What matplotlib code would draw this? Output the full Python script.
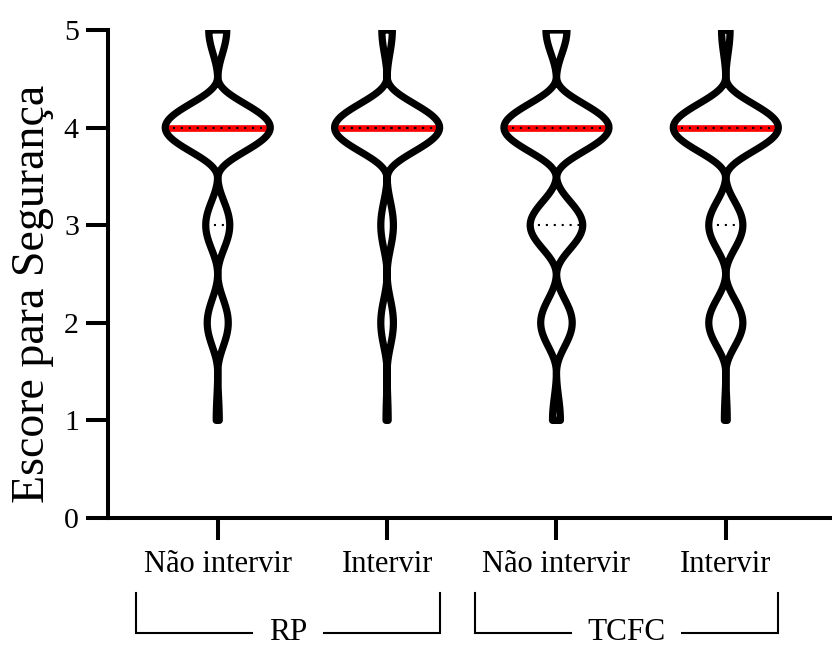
import numpy as np
import matplotlib
matplotlib.use("Agg")
import matplotlib.pyplot as plt
from matplotlib.patches import Polygon
from matplotlib.transforms import blended_transform_factory

plt.rcParams['font.family'] = ['Liberation Serif', 'DejaVu Serif']

# Score scale and number of answers per score in each group
scores = np.array([1, 2, 3, 4, 5])
rp_nao_intervir = [1, 7, 8, 35, 6]
rp_intervir = [1, 6, 6, 50, 5]
tcfc_nao_intervir = [3, 12, 20, 40, 8]
tcfc_intervir = [1, 12, 12, 37, 3]

groups = [rp_nao_intervir, rp_intervir, tcfc_nao_intervir, tcfc_intervir]
tick_labels = ["Não intervir", "Intervir", "Não intervir", "Intervir"]
group_names = ["RP", "TCFC"]
group_members = [(0, 1), (2, 3)]

ylabel = "Escore para Segurança"

BANDWIDTH = 0.55      # triweight kernel support
HALF_WIDTH = 0.31     # max half width of a violin, in category units


def kde(y, counts):
    dens = np.zeros_like(y)
    for s, c in zip(scores, counts):
        u = (y - s) / BANDWIDTH
        k = np.where(np.abs(u) < 1, (1 - u ** 2) ** 3, 0.0)
        dens += c * k
    return dens


fig = plt.figure(figsize=(8.32, 6.46), dpi=100)
ax = fig.add_axes([108 / 832, 128 / 646, 724 / 832, 488 / 646])

for i, counts in enumerate(groups):
    data = np.repeat(scores, counts)
    lo, hi = data.min(), data.max()
    y = np.linspace(lo, hi, 1201)
    dens = kde(y, counts)
    scale = HALF_WIDTH / dens.max()
    half = dens * scale

    xs = np.concatenate([i + half, (i - half)[::-1]])
    ys = np.concatenate([y, y[::-1]])
    verts = np.column_stack([xs, ys])

    ax.add_patch(Polygon(verts, closed=True, facecolor='white',
                         edgecolor='none', zorder=2))

    q1, med, q3 = np.percentile(data, [25, 50, 75])

    def width_at(v):
        return kde(np.array([v]), counts)[0] * scale

    w = width_at(med)
    ax.plot([i - w, i + w], [med, med], color='#ff0000', lw=4.8,
            solid_capstyle='butt', zorder=3)
    for q in (q1, q3):
        w = width_at(q)
        ax.plot([i - w, i + w], [q, q], color='black', lw=1.5,
                dashes=(1, 2.8), dash_capstyle='butt', zorder=4)

    ax.add_patch(Polygon(verts, closed=True, facecolor='none',
                         edgecolor='black', lw=5.2, joinstyle='round',
                         zorder=5))

ax.set_xlim(-0.648, 3.627)
ax.set_ylim(0, 5)
ax.set_yticks([0, 1, 2, 3, 4, 5])
ax.set_xticks(range(len(groups)))
ax.set_xticklabels(tick_labels, fontsize=22)
ax.tick_params(axis='y', labelsize=21.5, length=16, width=2.9, pad=5,
               colors='black')
ax.tick_params(axis='x', length=16, width=2.9, pad=7, colors='black')

for side in ('top', 'right'):
    ax.spines[side].set_visible(False)
for side in ('left', 'bottom'):
    ax.spines[side].set_linewidth(2.9)
    ax.spines[side].set_capstyle('projecting')

fig.text(33 / 832, 1 - 294 / 646, ylabel, rotation=90, fontsize=33,
         ha='center', va='center')

# Group brackets under the category labels
trans = blended_transform_factory(ax.transData, fig.transFigure)
y_top = 1 - 593 / 646
y_bot = 1 - 633 / 646
y_txt = 1 - 632 / 646
for name, (a, b) in zip(group_names, group_members):
    left = a - 0.482
    right = b + 0.31
    ax.plot([left, left, right, right], [y_top, y_bot, y_bot, y_top],
            color='black', lw=1.5, transform=trans, clip_on=False,
            solid_joinstyle='miter')
    ax.text((left + right) / 2, y_txt, name, transform=trans, fontsize=22.5,
            ha='center', va='center',
            bbox=dict(boxstyle='square,pad=0.5', facecolor='white',
                      edgecolor='none'))

fig.savefig("out.png", dpi=100)
